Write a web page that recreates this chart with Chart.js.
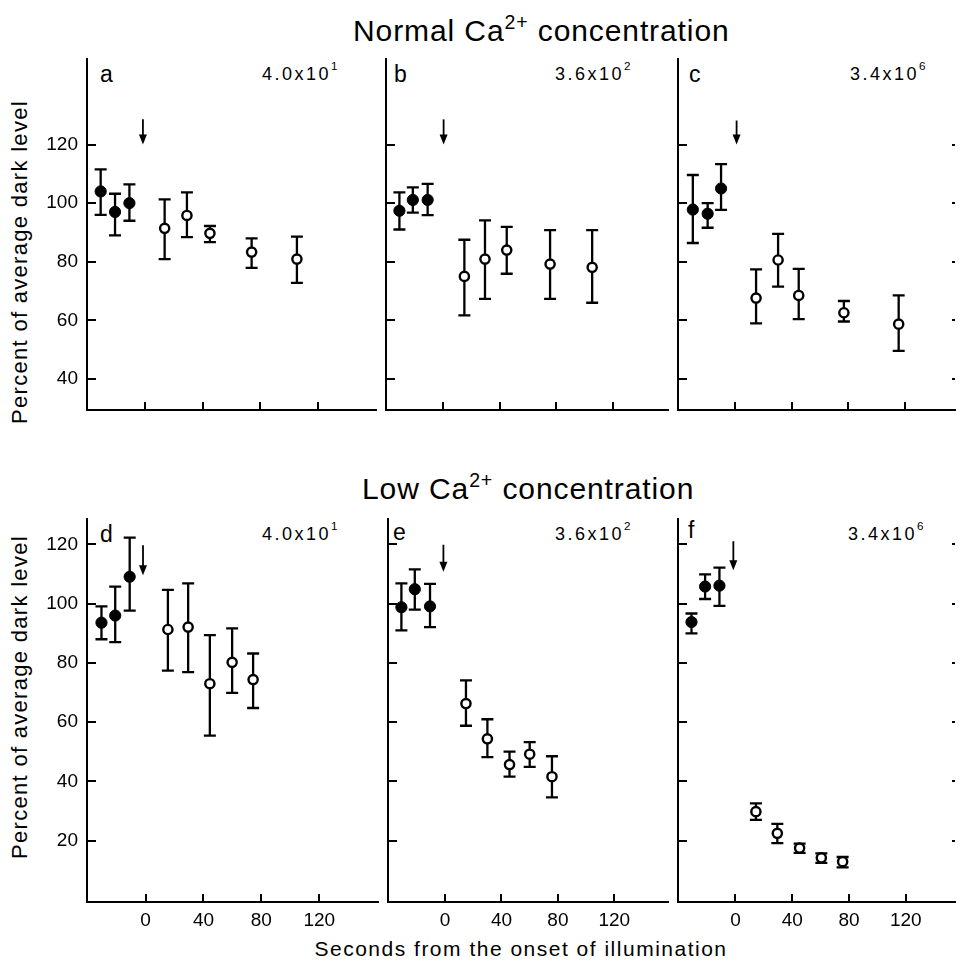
<!DOCTYPE html>
<html>
<head>
<meta charset="utf-8">
<script src="https://cdn.jsdelivr.net/npm/chart.js@4.4.1/dist/chart.umd.min.js"></script>
<style>
  body { margin:0; width:960px; height:962px; overflow:hidden; position:relative; background:#fff;
         font-family:"Liberation Sans", Arial, sans-serif; color:#000; }
  canvas { position:absolute; }
  .t { position:absolute; white-space:nowrap; line-height:1; }
  .t sup { font-size:0.65em; position:relative; top:-0.6em; vertical-align:baseline; line-height:0; }
  .title { font-size:30px; letter-spacing:0.9px; }
  .letter { font-size:23px; }
  .inten { font-size:18px; letter-spacing:2.5px; }
  .inten sup { top:-0.8em; }
  .ylab { font-size:22px; letter-spacing:1.3px; transform:translate(-50%,-50%) rotate(-90deg); }
  .xlab { font-size:21px; letter-spacing:1.5px; transform:translateX(-50%); }
</style>
</head>
<body>

<div class="t title" style="left:353px; top:15.6px;">Normal Ca<sup>2+</sup> concentration</div>
<div class="t title" style="left:362px; top:473.6px;">Low Ca<sup>2+</sup> concentration</div>

<div class="t ylab" style="left:20px; top:262px;">Percent of average dark level</div>
<div class="t ylab" style="left:20px; top:697px;">Percent of average dark level</div>
<div class="t xlab" style="left:521px; top:938px;">Seconds from the onset of illumination</div>

<div class="t letter" style="left:100px; top:62.5px;">a</div>
<div class="t letter" style="left:394px; top:62.5px;">b</div>
<div class="t letter" style="left:689px; top:62.5px;">c</div>
<div class="t letter" style="left:100px; top:522.5px;">d</div>
<div class="t letter" style="left:393px; top:520.5px;">e</div>
<div class="t letter" style="left:688px; top:518.5px;">f</div>

<div class="t inten" style="left:262px; top:64.8px;">4.0x10<sup>1</sup></div>
<div class="t inten" style="left:555px; top:64.8px;">3.6x10<sup>2</sup></div>
<div class="t inten" style="left:850px; top:64.8px;">3.4x10<sup>6</sup></div>
<div class="t inten" style="left:262px; top:524.8px;">4.0x10<sup>1</sup></div>
<div class="t inten" style="left:555px; top:524.8px;">3.6x10<sup>2</sup></div>
<div class="t inten" style="left:848px; top:524.8px;">3.4x10<sup>6</sup></div>

<script>
// --- DATA ---
const xTickValues = [0, 40, 80, 120];
const yTicksNormal = [40, 60, 80, 100, 120];
const yTicksLow = [20, 40, 60, 80, 100, 120];

// filled circles = dark, open circles = during illumination; Lo/Hi = error bar ends
// a: normal Ca, 4.0x10^1
const aDarkX = [-31, -21, -11];
const aDarkY = [104, 97, 100];
const aDarkLo = [96, 89, 94];
const aDarkHi = [111.5, 103.2, 106.4];
const aLightX = [13.5, 29, 45, 74, 105.5];
const aLightY = [91.4, 95.8, 89.7, 83.3, 80.9];
const aLightLo = [80.9, 88.4, 86.7, 77.9, 72.8];
const aLightHi = [101.3, 103.7, 92.2, 88, 88.6];

// b: normal Ca, 3.6x10^2
const bDarkX = [-31, -21.5, -11];
const bDarkY = [97.4, 101.1, 101.1];
const bDarkLo = [91, 96.8, 95.9];
const bDarkHi = [103.7, 105.4, 106.6];
const bLightX = [15, 29.6, 45, 75.7, 105.5];
const bLightY = [75, 80.9, 84, 79.2, 78.1];
const bLightLo = [61.7, 67.3, 75.9, 67.3, 66];
const bLightHi = [87.5, 94.1, 91.9, 90.8, 90.8];

// c: normal Ca, 3.4x10^6
const cDarkX = [-30, -19.5, -10];
const cDarkY = [97.8, 96.4, 105];
const cDarkLo = [86.4, 91.6, 97.7];
const cDarkHi = [109.6, 100, 113.3];
const cLightX = [14.8, 30.4, 45, 77, 115.8];
const cLightY = [67.6, 80.6, 68.5, 62.6, 58.7];
const cLightLo = [59, 71.5, 60.4, 59.6, 49.6];
const cLightHi = [77.4, 89.5, 77.6, 66.6, 68.5];

// d: low Ca, 4.0x10^1
const dDarkX = [-30.5, -21, -11];
const dDarkY = [93.6, 96, 109.1];
const dDarkLo = [88, 87, 97.7];
const dDarkHi = [99.1, 105.8, 122.3];
const dLightX = [15.4, 29.4, 44.4, 59.8, 74.3];
const dLightY = [91.3, 92.1, 73, 80.2, 74.4];
const dLightLo = [77.4, 76.9, 55.5, 69.9, 64.8];
const dLightHi = [104.7, 106.9, 89.4, 91.7, 83.2];

// e: low Ca, 3.6x10^2
const eDarkX = [-31, -21.5, -10.7];
const eDarkY = [98.8, 104.9, 99.1];
const eDarkLo = [91, 98, 92.1];
const eDarkHi = [106.9, 111.6, 106.7];
const eLightX = [14.8, 30, 45.7, 60, 75.8];
const eLightY = [66.3, 54.4, 45.7, 49.2, 41.6];
const eLightLo = [58.8, 48.2, 41.6, 44.9, 34.6];
const eLightHi = [74.1, 61, 50.1, 53.3, 48.5];

// f: low Ca, 3.4x10^6
const fDarkX = [-31, -21.4, -11.3];
const fDarkY = [93.8, 105.8, 106.1];
const fDarkLo = [90, 101.6, 99.3];
const fDarkHi = [96.7, 109.9, 112.2];
const fLightX = [14.4, 29.5, 45.2, 60.5, 75.5];
const fLightY = [29.8, 22.5, 17.5, 14.2, 12.9];
const fLightLo = [27, 19.2, 15.9, 12.5, 11];
const fLightHi = [32.6, 25.7, 19, 15.7, 14.5];

// onset-of-light arrows, panels a..f
const arrowX = [-1.6, 0.3, 1, -1.8, -1.2, -1.5];
const arrowTop = [128.6, 128.6, 128.2, 119.7, 119.9, 121.1];
const arrowTip = [120, 120, 120, 109.6, 110.8, 111.3];

const FONT = '"Liberation Sans", Arial, sans-serif';

// --- PLUGINS ---
// vertical error bars with caps, drawn under the markers
const errorBars = {
    id: 'errorBars',
    beforeDatasetsDraw(chart) {
        const ctx = chart.ctx, y = chart.scales.y;
        ctx.save();
        ctx.strokeStyle = '#000';
        ctx.lineWidth = 2.3;
        chart.data.datasets.forEach((ds, i) => {
            chart.getDatasetMeta(i).data.forEach((pt, j) => {
                const lo = y.getPixelForValue(ds.lo[j]);
                const hi = y.getPixelForValue(ds.hi[j]);
                ctx.beginPath();
                ctx.moveTo(pt.x, lo); ctx.lineTo(pt.x, hi);
                ctx.moveTo(pt.x - 6, lo); ctx.lineTo(pt.x + 6, lo);
                ctx.moveTo(pt.x - 6, hi); ctx.lineTo(pt.x + 6, hi);
                ctx.stroke();
            });
        });
        ctx.restore();
    }
};

// tick marks pointing into the plot
const inTicks = {
    id: 'inTicks',
    afterDatasetsDraw(chart, args, opts) {
        const { ctx, chartArea: a, scales: { x, y } } = chart;
        ctx.save();
        ctx.strokeStyle = '#000';
        ctx.lineWidth = 2;
        ctx.beginPath();
        y.ticks.forEach(t => {
            const py = Math.round(y.getPixelForValue(t.value));
            ctx.moveTo(a.left, py); ctx.lineTo(a.left + 9, py);
            if (opts.right) { ctx.moveTo(a.right - 3, py); ctx.lineTo(a.right, py); }
        });
        x.ticks.forEach(t => {
            const px = Math.round(x.getPixelForValue(t.value));
            ctx.moveTo(px, a.bottom); ctx.lineTo(px, a.bottom - 8);
        });
        ctx.stroke();
        ctx.restore();
    }
};

// down arrow marking light onset
const onsetArrow = {
    id: 'onsetArrow',
    afterDatasetsDraw(chart, args, o) {
        const { ctx, scales: { x, y } } = chart;
        const px = x.getPixelForValue(o.x);
        const y0 = y.getPixelForValue(o.top);
        const y1 = y.getPixelForValue(o.tip);
        ctx.save();
        ctx.strokeStyle = '#000'; ctx.fillStyle = '#000'; ctx.lineWidth = 1.8;
        ctx.beginPath(); ctx.moveTo(px, y0); ctx.lineTo(px, y1 - 6); ctx.stroke();
        ctx.beginPath();
        ctx.moveTo(px - 4, y1 - 10); ctx.lineTo(px + 4, y1 - 10); ctx.lineTo(px, y1);
        ctx.closePath(); ctx.fill();
        ctx.restore();
    }
};

// --- PANELS ---
const panels = [
    { left: 87,  right: 381, top: 54,  bottom: 415, yMin: 29.4, yMax: 149.2, xMax: 160.5, yTicks: yTicksNormal, yLabels: true,  xLabels: false,
      dark: [aDarkX, aDarkY, aDarkLo, aDarkHi], light: [aLightX, aLightY, aLightLo, aLightHi] },
    { left: 381, right: 673, top: 54,  bottom: 415, yMin: 29.4, yMax: 149.2, xMax: 159.2, yTicks: yTicksNormal, yLabels: false, xLabels: false,
      dark: [bDarkX, bDarkY, bDarkLo, bDarkHi], light: [bLightX, bLightY, bLightLo, bLightHi] },
    { left: 673, right: 960, top: 54,  bottom: 415, yMin: 29.4, yMax: 149.2, xMax: 155.7, yTicks: yTicksNormal, yLabels: false, xLabels: false, rightTicks: true,
      dark: [cDarkX, cDarkY, cDarkLo, cDarkHi], light: [cLightX, cLightY, cLightLo, cLightHi] },
    { left: 87,  right: 383, top: 514, bottom: 902, yMin: -0.7, yMax: 128.6, xMax: 160.6, yTicks: yTicksLow, yLabels: true,  xLabels: true,
      dark: [dDarkX, dDarkY, dDarkLo, dDarkHi], light: [dLightX, dLightY, dLightLo, dLightHi] },
    { left: 383, right: 673, top: 514, bottom: 902, yMin: -0.7, yMax: 128.6, xMax: 158.1, yTicks: yTicksLow, yLabels: false, xLabels: true,
      dark: [eDarkX, eDarkY, eDarkLo, eDarkHi], light: [eLightX, eLightY, eLightLo, eLightHi] },
    { left: 673, right: 960, top: 514, bottom: 902, yMin: -0.7, yMax: 128.6, xMax: 154.7, yTicks: yTicksLow, yLabels: false, xLabels: true, rightTicks: true,
      dark: [fDarkX, fDarkY, fDarkLo, fDarkHi], light: [fLightX, fLightY, fLightLo, fLightHi] }
];

function toPoints(xs, ys) {
    return xs.map((x, i) => ({ x: x, y: ys[i] }));
}

function makePanel(p, i) {
    const pad = 2;
    const yW = p.yLabels ? p.left : 0;   // room for y tick labels
    const xH = p.xLabels ? 40 : 0;       // room for x tick labels
    const w = p.right - p.left + yW + 2 * pad;
    const h = p.bottom - p.top + xH + 2 * pad;
    const cv = document.createElement('canvas');
    cv.width = w; cv.height = h;
    cv.style.left = (p.left - yW - pad) + 'px';
    cv.style.top = (p.top - pad) + 'px';
    cv.style.width = w + 'px'; cv.style.height = h + 'px';
    document.body.appendChild(cv);

    new Chart(cv, {
        type: 'scatter',
        data: {
            datasets: [
                { label: 'dark', data: toPoints(p.dark[0], p.dark[1]), lo: p.dark[2], hi: p.dark[3],
                  pointRadius: 5.6, borderWidth: 1, backgroundColor: '#000', borderColor: '#000' },
                { label: 'light', data: toPoints(p.light[0], p.light[1]), lo: p.light[2], hi: p.light[3],
                  pointRadius: 4.6, borderWidth: 2.4, backgroundColor: '#fff', borderColor: '#000' }
            ]
        },
        options: {
            responsive: false,
            animation: false,
            devicePixelRatio: 1,
            layout: { padding: pad },
            plugins: {
                legend: { display: false },
                tooltip: { enabled: false },
                inTicks: { right: !!p.rightTicks },
                onsetArrow: { x: arrowX[i], top: arrowTop[i], tip: arrowTip[i] }
            },
            scales: {
                x: {
                    type: 'linear', min: -40.5, max: p.xMax,
                    grid: { display: false, drawTicks: false },
                    border: { display: true, color: '#000', width: 2 },
                    ticks: { display: p.xLabels, color: '#000', padding: 7, font: { family: FONT, size: 19 } },
                    afterBuildTicks: s => { s.ticks = xTickValues.map(v => ({ value: v })); },
                    afterFit: s => { s.height = xH; s.paddingLeft = 0; s.paddingRight = 0; }
                },
                y: {
                    type: 'linear', min: p.yMin, max: p.yMax,
                    grid: { display: false, drawTicks: false },
                    border: { display: true, color: '#000', width: 2 },
                    ticks: { display: p.yLabels, color: '#000', padding: 9, font: { family: FONT, size: 19 } },
                    afterBuildTicks: s => { s.ticks = p.yTicks.map(v => ({ value: v })); },
                    afterFit: s => { s.width = yW; s.paddingTop = 0; s.paddingBottom = 0; }
                }
            }
        },
        plugins: [errorBars, inTicks, onsetArrow]
    });
}

panels.forEach(makePanel);
</script>
</body>
</html>
